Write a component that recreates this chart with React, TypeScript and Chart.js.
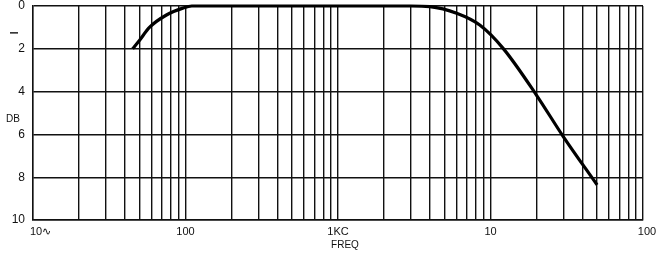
import React, { useEffect, useRef } from "react";
import { Chart, registerables } from "chart.js";

Chart.register(...registerables);

// Frequency response (Hz, dB loss)
const freqHz = [45, 50, 58, 75, 96, 110, 1000, 3000, 4000, 6000, 8500, 12100, 20000, 30000, 50000];
const lossDb = [2.0, 1.6, 1.0, 0.42, 0.1, 0, 0, 0, 0.03, 0.34, 0.89, 1.98, 4.16, 6.1, 8.36];

const decadeStarts = [10, 100, 1000, 10000];
const decadeSteps = [1, 2, 3, 4, 5, 6, 7, 8, 9];
const xMin = 10;
const xMax = 100000;
const xGridValues = [...decadeStarts.flatMap((d) => decadeSteps.map((s) => d * s)), xMax];
const xLabelValues = [10, 100, 1000, 10000, 100000];
const xLabelTexts = ["10\u223F", "100", "1KC", "10", "100"];
const yTickValues = [0, 2, 4, 6, 8, 10];
const yLabels = ["0", "2", "4", "6", "8", "10"];

const FONT = "'Liberation Sans', Arial, sans-serif";
const INK = "#111";

const textPlugin = {
  id: "paperText",
  afterDraw(chart: any) {
    const ctx = chart.ctx;
    const xs = chart.scales.x;
    const ys = chart.scales.y;
    ctx.save();
    ctx.fillStyle = INK;
    ctx.font = `11px ${FONT}`;
    ctx.textBaseline = "middle";
    const labelY = chart.chartArea.bottom + 12;
    xLabelValues.forEach((v, i) => {
      const px = xs.getPixelForValue(v);
      if (i === 0) {
        ctx.textAlign = "left";
        ctx.fillText(xLabelTexts[i], px - 3, labelY);
      } else if (i === xLabelValues.length - 1) {
        ctx.textAlign = "center";
        ctx.fillText(xLabelTexts[i], px + 4, labelY);
      } else {
        ctx.textAlign = "center";
        ctx.fillText(xLabelTexts[i], px, labelY);
      }
    });
    // axis title
    ctx.textAlign = "center";
    ctx.font = `10px ${FONT}`;
    ctx.fillText("FREQ", (chart.chartArea.left + chart.chartArea.right) / 2 + 7, chart.chartArea.bottom + 25);
    // y title
    ctx.fillText("DB", 13, ys.getPixelForValue(5.3));
    // rotated "I" mark near 1 dB
    ctx.save();
    ctx.translate(15, ys.getPixelForValue(1.25));
    ctx.rotate(-Math.PI / 2);
    ctx.font = `bold 10px ${FONT}`;
    ctx.fillText("I", 0, 0);
    ctx.restore();
    ctx.restore();
  },
};

export default function App() {
  const canvasRef = useRef<HTMLCanvasElement | null>(null);

  useEffect(() => {
    if (!canvasRef.current) return;
    const chart = new Chart(canvasRef.current, {
      type: "line",
      data: {
        datasets: [
          {
            data: freqHz.map((f, i) => ({ x: f, y: lossDb[i] })),
            borderColor: "#000",
            borderWidth: 3.2,
            pointRadius: 0,
            cubicInterpolationMode: "monotone",
            clip: false as any,
            fill: false,
          },
        ],
      },
      options: {
        animation: false,
        responsive: false,
        events: [],
        layout: { padding: { left: 0, top: 6, right: 16, bottom: 0 } },
        plugins: {
          legend: { display: false },
          tooltip: { enabled: false },
        },
        scales: {
          x: {
            type: "logarithmic",
            min: xMin,
            max: xMax,
            afterBuildTicks: (axis: any) => {
              axis.ticks = xGridValues.map((v) => ({ value: v }));
            },
            afterFit: (axis: any) => {
              axis.height = 41;
              axis.paddingLeft = 0;
              axis.paddingRight = 0;
            },
            ticks: { display: false },
            grid: { color: INK, lineWidth: 1.4, drawTicks: false },
            border: { display: true, color: INK, width: 1.4 },
          },
          y: {
            type: "linear",
            min: 0,
            max: 10,
            reverse: true,
            afterBuildTicks: (axis: any) => {
              axis.ticks = yTickValues.map((v) => ({ value: v }));
            },
            afterFit: (axis: any) => {
              axis.width = 33;
              axis.paddingTop = 0;
              axis.paddingBottom = 0;
            },
            ticks: {
              color: INK,
              padding: 8,
              font: { family: FONT, size: 12 },
              callback: (_v: any, i: number) => yLabels[i],
            },
            grid: { color: INK, lineWidth: 1.4, drawTicks: false },
            border: { display: true, color: INK, width: 1.4 },
          },
        },
      },
      plugins: [textPlugin],
    });
    return () => chart.destroy();
  }, []);

  return (
    <div style={{ position: "fixed", left: 0, top: 0, width: 659, height: 261, background: "#fff" }}>
      <canvas ref={canvasRef} width={659} height={261} style={{ width: 659, height: 261, display: "block" }} />
    </div>
  );
}
